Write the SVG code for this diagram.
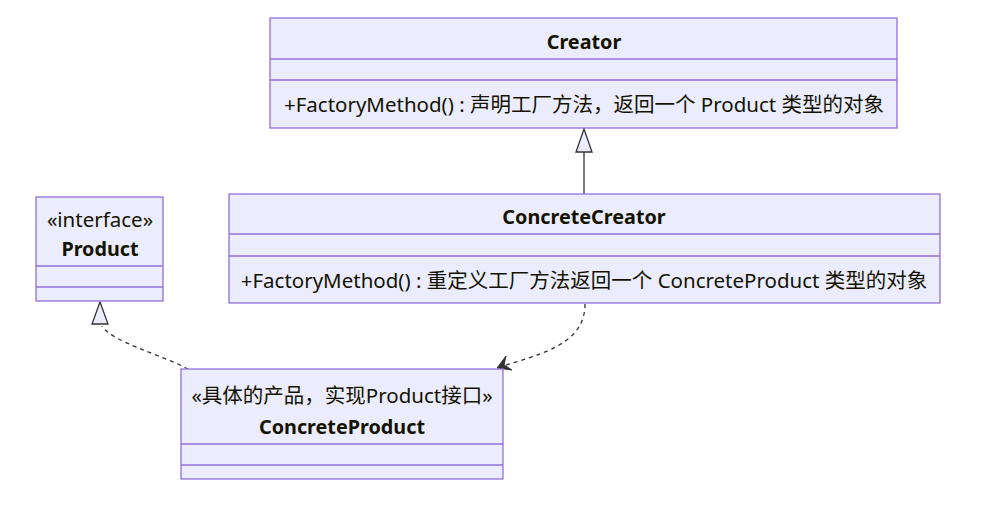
<svg xmlns="http://www.w3.org/2000/svg" width="1000" height="514" viewBox="0 0 1000 514">
<style>
.box{fill:#ECECFF;stroke:#9370DB;stroke-width:1.3}
.div{stroke:#9370DB;stroke-width:1.3}
text{font-family:"Noto Sans","Noto Sans CJK SC",sans-serif;fill:#131300;font-size:20.5px;text-anchor:middle;dominant-baseline:central}
.b{font-weight:bold;font-size:19.8px}
.rel{fill:none;stroke:#333;stroke-width:1.3}
.dash{stroke-dasharray:4 4}
.tri{fill:#ECECFF;stroke:#333;stroke-width:1.3}
</style>
<rect width="1000" height="514" fill="#fff"/>
<g id="edges">
  <path class="rel" d="M584,194 L584,152"/>
  <path class="tri" d="M584,129 L592,152 L576,152 Z"/>
  <path class="rel dash" d="M188,369 C160,354 112,342 102,326"/>
  <path class="tri" d="M100,302 L108,324 L92,324 Z"/>
  <path class="rel dash" d="M585,304 C585,345 540,354 500,367"/>
  <path d="M497,368 L506,356 L504,365 L512,370 Z" fill="#333" stroke="#333" stroke-width="1"/>
</g>
<g id="Creator">
  <rect class="box" x="270" y="18" width="627" height="110"/>
  <line class="div" x1="270" y1="59" x2="897" y2="59"/>
  <line class="div" x1="270" y1="80" x2="897" y2="80"/>
  <text class="b" x="584" y="41">Creator</text>
  <text x="584" y="104">+FactoryMethod() : 声明工厂方法，返回一个 Product 类型的对象</text>
</g>
<g id="ConcreteCreator">
  <rect class="box" x="229" y="194" width="711" height="109"/>
  <line class="div" x1="229" y1="234" x2="940" y2="234"/>
  <line class="div" x1="229" y1="256" x2="940" y2="256"/>
  <text class="b" x="584" y="216">ConcreteCreator</text>
  <text x="584" y="280">+FactoryMethod() : 重定义工厂方法返回一个 ConcreteProduct 类型的对象</text>
</g>
<g id="Product">
  <rect class="box" x="36" y="197" width="127" height="104"/>
  <line class="div" x1="36" y1="266" x2="163" y2="266"/>
  <line class="div" x1="36" y1="287" x2="163" y2="287"/>
  <text x="100" y="219">«interface»</text>
  <text class="b" x="100" y="248">Product</text>
</g>
<g id="ConcreteProduct">
  <rect class="box" x="181" y="369" width="322" height="110"/>
  <line class="div" x1="181" y1="444" x2="503" y2="444"/>
  <line class="div" x1="181" y1="465" x2="503" y2="465"/>
  <text x="342" y="395">«具体的产品，实现Product接口»</text>
  <text class="b" x="342" y="426">ConcreteProduct</text>
</g>
</svg>
